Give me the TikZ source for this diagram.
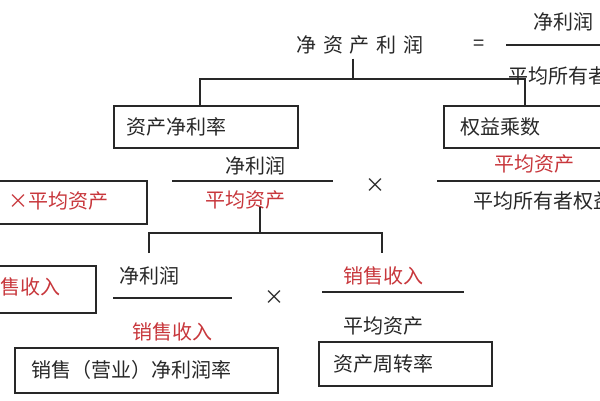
\documentclass[tikz,border=0pt]{standalone}
\usepackage{fontspec}
\newfontfamily\cjk{Noto Sans CJK SC}
\definecolor{redtxt}{RGB}{200,55,60}
\definecolor{ln}{RGB}{40,40,40}
\begin{document}
\begin{tikzpicture}[x=1pt,y=-1pt,
  txt/.style={font=\cjk\fontsize{20}{22}\selectfont, inner sep=0pt, text=ln},
  rtxt/.style={txt, text=redtxt},
  boxx/.style={draw=ln, line width=1.3pt, inner sep=0pt},
  wire/.style={draw=ln, line width=1.2pt}]
\useasboundingbox[fill=white] (0,0) rectangle (600,400);
% top
\node[txt] (roe) at (360,45) {净\,\,资\,\,产\,\,利\,\,润};
\node[txt] (eq) at (479,45) {=};
\node[txt] (tn) at (563,22) {净利润};
\node[txt, anchor=west] (td) at (508,76) {平均所有者权益};
\draw[wire] (506,45) -- (600,45);
\coordinate (tj) at (353,79);
\draw[wire] (roe.south -| tj) ++(0,4) -- (tj);
\draw[wire] (200,106) |- (525,79) -- (525,106);
% boxes row 1
\draw[boxx] (114,106) rectangle (298,148);
\node[txt, anchor=west] (b1) at (126,127) {资产净利率};
\draw[boxx] (444,106) rectangle (610,148);
\node[txt, anchor=west] (b2) at (460,127) {权益乘数};
% fraction row 2
\node[txt] (n1) at (255,166) {净利润};
\draw[wire] (172,181) -- (333,181);
\node[rtxt] (d1) at (245,200) {平均资产};
\node[txt] (x1) at (375,186) {×};
\node[rtxt] (n2) at (534,164) {平均资产};
\draw[wire] (437,181) -- (610,181);
\node[txt, anchor=west] (d2) at (473,201) {平均所有者权益};
\draw[boxx] (-10,181) rectangle (147,224);
\node[rtxt, anchor=east] (lb1) at (109,201) {×平均资产};
% second tree
\draw[wire] (d1.south -| 260,0) ++(0,-2) -- (260,233);
\draw[wire] (149,253) |- (382,233) -- (382,253);
\draw[boxx] (-10,266) rectangle (96,313);
\node[rtxt, anchor=east] (lb2) at (61,287) {售收入};
\node[txt] (n3) at (149,276) {净利润};
\draw[wire] (113,298) -- (232,298);
\node[rtxt] (d3) at (172,332) {销售收入};
\node[txt] (x2) at (274,298) {×};
\node[rtxt] (n4) at (383,276) {销售收入};
\draw[wire] (322,292) -- (464,292);
\node[txt] (d4) at (383,326) {平均资产};
\draw[boxx] (15,348) rectangle (278,393);
\node[txt, anchor=west] (b3) at (31,370) {销售（营业）净利润率};
\draw[boxx] (319,342) rectangle (492,386);
\node[txt, anchor=west] (b4) at (333,364) {资产周转率};
\end{tikzpicture}
\end{document}
